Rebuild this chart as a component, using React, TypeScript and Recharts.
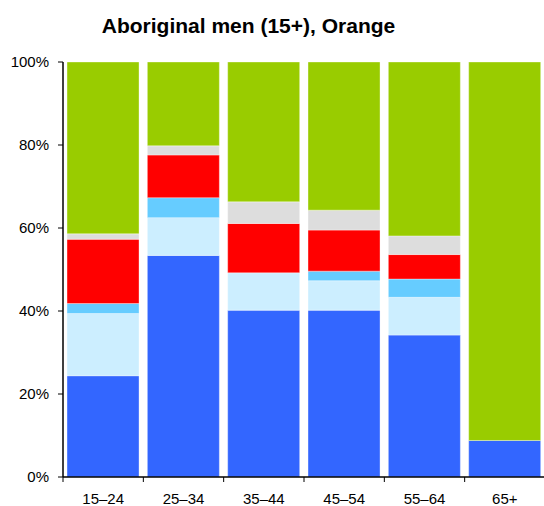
import { Bar, BarChart, XAxis, YAxis } from "recharts";

const ageGroups = ["15–24", "25–34", "35–44", "45–54", "55–64", "65+"];

// shares in percent, bottom of the stack first
const fullTime = [24.4, 53.4, 40.2, 40.2, 34.2, 8.8];
const partTime = [15.0, 9.1, 9.0, 7.1, 9.1, 0];
const awayFromWork = [2.4, 4.8, 0, 2.3, 4.4, 0];
const unemployed = [15.5, 10.3, 11.9, 9.9, 5.9, 0];
const notStated = [1.3, 2.2, 5.2, 4.8, 4.5, 0];
const notInLabourForce = [41.4, 20.2, 33.7, 35.7, 41.9, 91.2];

const yTicks = [0, 0.2, 0.4, 0.6, 0.8, 1];

const series = [
  { key: "fullTime", name: "Employed full-time", color: "#3366FF" },
  { key: "partTime", name: "Employed part-time", color: "#CCEEFF" },
  { key: "awayFromWork", name: "Employed, away from work", color: "#66CCFF" },
  { key: "unemployed", name: "Unemployed", color: "#FF0000" },
  { key: "notStated", name: "Not stated", color: "#DDDDDD" },
  { key: "notInLabourForce", name: "Not in labour force", color: "#99CC00" },
];

const data = ageGroups.map((age, i) => ({
  age,
  fullTime: fullTime[i],
  partTime: partTime[i],
  awayFromWork: awayFromWork[i],
  unemployed: unemployed[i],
  notStated: notStated[i],
  notInLabourForce: notInLabourForce[i],
}));

const font = "'Liberation Sans', Arial, Helvetica, sans-serif";

const TICK_GAP = 16; // tickSize + tickMargin below the axis line

// category label, plus the small tick on the left edge of its band
function AgeTick(props: any) {
  const { x, y, payload, width } = props;
  const half = payload.offset ?? width / ageGroups.length / 2;
  const lineTop = y - TICK_GAP;
  return (
    <g>
      <line x1={x - half} x2={x - half} y1={lineTop} y2={lineTop + 5} stroke="#000" />
      <text x={x} y={y} dy="0.71em" textAnchor="middle" fill="#000" fontSize={15} fontFamily={font}>
        {payload.value}
      </text>
    </g>
  );
}

export default function App() {
  return (
    <div style={{ position: "absolute", left: 0, top: 0, width: 544, height: 506, fontFamily: font }}>
      <div
        style={{
          position: "absolute",
          left: 0,
          top: 14,
          width: 497,
          textAlign: "center",
          fontWeight: "bold",
          fontSize: 21,
          lineHeight: "24px",
          color: "#000",
        }}
      >
        Aboriginal men (15+), Orange
      </div>
      <BarChart
        width={544}
        height={506}
        data={data}
        stackOffset="expand"
        barCategoryGap="5%"
        margin={{ top: 62, right: -1, bottom: 0, left: 0 }}
      >
        <XAxis
          dataKey="age"
          height={29}
          tickLine={false}
          tickSize={6}
          tickMargin={10}
          interval={0}
          axisLine={{ stroke: "#000", strokeWidth: 1.5 }}
          tick={<AgeTick />}
        />
        <YAxis
          width={63}
          domain={[0, 1]}
          ticks={yTicks}
          tickFormatter={(v: number) => `${Math.round(v * 100)}%`}
          tickSize={5}
          tickMargin={9}
          tickLine={{ stroke: "#000" }}
          axisLine={{ stroke: "#000", strokeWidth: 1.5 }}
          tick={{ fill: "#000", fontSize: 15, fontFamily: font }}
        />
        {series.map((s) => (
          <Bar
            key={s.key}
            dataKey={s.key}
            name={s.name}
            stackId="a"
            fill={s.color}
            stroke="#ffffff"
            strokeOpacity={0.35}
            strokeWidth={1}
            isAnimationActive={false}
          />
        ))}
      </BarChart>
    </div>
  );
}
